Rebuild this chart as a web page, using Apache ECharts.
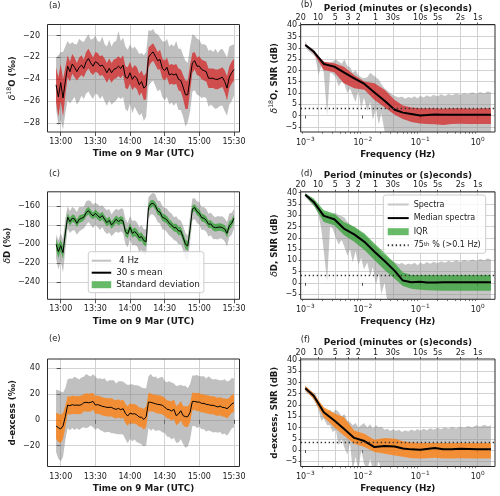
<!DOCTYPE html>
<html><head><meta charset="utf-8">
<script src="https://cdn.jsdelivr.net/npm/echarts@6/dist/echarts.min.js"></script>
<style>html,body{margin:0;padding:0;background:#fff}#c{width:500px;height:496px}</style>
</head><body><div id="c"></div>
<script>
// ---------------- DATA ----------------
// time in minutes after 13:00 UTC (9 Mar)
const timeMin = [-4,-2,0,2,4,6,8,10,12,14,
16,18,20,22,24,26,28,30,32,34,
36,38,40,42,44,46,48,50,52,54,
56,58,60,62,64,66,68,70,72,74,
76,78,80,82,84,86,88,90,92,94,
96,98,100,102,104,106,108,110,112,114,
116,118,120,122,124,126,128,130,132,134,
136,138,140,142,144,146,148,150];
const timeTickMin = [0,30,60,90,120,150];

// (a) d18O : 30 s mean, standard deviation, 4 Hz spread above / below mean
const d18Mean = [-24.5,-25.6,-24.3,-25.7,-24.2,-22.8,-23.3,-22.6,-22.9,-23.3,
-22.9,-22.7,-23.0,-22.4,-22.1,-22.5,-22.8,-22.4,-22.5,-22.8,
-22.7,-23.0,-23.4,-23.0,-23.4,-23.1,-23.0,-22.8,-23.0,-22.7,
-23.8,-23.9,-23.4,-24.0,-23.7,-23.9,-24.5,-24.2,-24.8,-24.6,
-22.0,-21.7,-21.5,-21.9,-22.3,-22.2,-23.0,-23.2,-22.9,-23.6,
-23.5,-23.6,-23.5,-24.0,-24.1,-24.7,-25.4,-25.4,-23.9,-22.5,
-22.3,-22.8,-22.8,-23.1,-23.2,-23.3,-23.9,-23.9,-23.9,-24.0,
-24.0,-23.9,-23.8,-24.2,-24.8,-23.8,-23.4,-23.1];
const d18Sd = [1.6,1.8,1.7,1.7,1.3,1.0,0.9,0.9,0.9,0.8,
0.9,0.9,0.8,0.9,0.9,0.9,0.8,0.9,0.9,0.9,
0.9,0.9,0.9,0.9,0.9,0.9,0.9,0.9,0.9,0.9,
1.0,1.0,1.0,1.0,1.0,1.0,1.0,1.0,1.1,1.2,
0.9,0.8,0.8,0.8,0.8,0.9,0.9,0.9,0.9,0.9,
0.9,0.9,0.9,1.0,1.0,1.1,1.3,1.3,1.2,0.9,
0.8,0.8,0.9,0.9,0.9,0.9,0.9,0.9,0.9,0.9,
0.9,0.9,0.9,1.0,1.1,1.0,1.0,1.0];
const d18Up = [2.5,3.8,2.8,4.2,3.2,2.3,2.5,2.0,2.1,2.5,
2.6,2.2,2.4,2.2,2.2,2.1,2.5,2.4,2.0,2.2,
2.6,2.2,2.4,2.6,2.4,2.5,2.5,3.2,2.5,2.5,
2.8,2.6,2.6,2.8,2.7,2.6,2.8,2.6,3.0,3.1,
2.5,2.1,2.1,2.1,2.4,2.0,2.5,2.6,2.6,2.6,
2.7,2.6,3.0,2.8,2.9,2.9,3.1,2.9,2.9,2.6,
2.3,2.5,2.4,2.3,2.4,2.4,2.5,2.6,2.4,2.8,
2.4,2.6,2.6,2.6,2.8,2.8,2.5,2.3];
const d18Dn = [2.2,2.6,3.4,2.9,2.9,3.1,2.9,3.3,2.7,3.0,
3.1,2.8,2.8,2.9,3.0,3.0,3.0,2.9,2.9,3.0,
2.8,3.0,3.0,2.9,2.9,3.0,2.9,2.8,2.8,2.9,
2.9,3.0,2.8,3.1,2.8,3.0,2.8,2.9,3.0,2.8,
2.6,2.6,2.6,2.7,2.8,2.7,2.6,2.7,2.7,2.7,
2.6,2.8,2.6,2.8,2.7,2.7,2.9,2.5,3.0,2.6,
2.7,2.6,2.7,2.6,2.4,2.4,2.6,2.4,2.6,2.7,
2.6,2.5,2.6,2.7,2.5,2.5,2.6,2.4];

// (c) dD
const dDMean = [-200.2,-207.9,-201.6,-209.0,-188.5,-171.6,-176.2,-172.7,-173.4,-178.0,
-173.7,-172.7,-171.6,-166.7,-164.6,-167.8,-170.2,-167.4,-169.9,-172.0,
-169.9,-173.7,-177.3,-174.8,-179.7,-176.9,-173.7,-176.2,-174.4,-175.5,
-186.8,-189.3,-182.2,-188.5,-186.8,-188.9,-193.1,-192.1,-196.3,-197.4,
-161.4,-157.5,-156.8,-159.6,-164.9,-166.3,-171.6,-172.7,-174.4,-178.0,
-179.7,-182.6,-182.6,-186.1,-186.1,-192.8,-200.2,-201.9,-184.3,-162.8,
-161.4,-165.6,-167.4,-172.0,-172.7,-174.8,-179.0,-178.7,-181.9,-182.6,
-182.2,-181.9,-182.6,-184.0,-188.5,-180.4,-178.0,-172.7];
const dDSd = [6,7,6,7,6,4.5,4,4,4,4,
4,4,3.5,4,4,4,3.5,4,4,4,
4,4,4,4,4,4,4,4,4,4,
4.5,4.5,4.5,4.5,4.5,4.5,4.5,4.5,4.5,5,
4,4,3.5,4,4,4,4,4,4,4,
4,4,4.5,4.5,4.5,4.5,5,5,5,4,
3.5,4,4,4,4,4,4,4,4,4,
4,4,4,4,4.5,4.5,4,4];
const dDUp = [10,12,13,14,15,12,11,12,11,12,
13,12,11,12,11,13,12,11,12,12,
11,12,13,12,11,12,11,12,12,13,
13,12,12,13,12,12,11,12,12,13,
11,10,11,12,11,12,12,11,12,12,
12,11,12,12,11,12,12,11,14,11,
10,11,12,11,12,12,11,12,12,11,
12,11,12,11,12,13,11,10];
const dDDn = [15,19,16,21,18,12,12,13,12,12,
13,12,12,13,12,12,13,12,12,13,
12,13,12,13,12,12,13,12,12,13,
13,14,13,13,14,13,15,14,14,14,
12,11,12,12,12,12,13,12,13,13,
13,13,14,14,14,14,15,16,14,12,
12,12,12,13,12,12,13,12,13,12,
13,12,12,13,14,12,12,11];

// (e) d-excess
const dxsMean = [-4.8,-6.1,-7.1,-4.8,2.4,11.4,10.9,11.7,11.2,11.4,
11.2,11.7,13.2,13.5,13.2,13.5,14.2,11.4,11.7,11.2,
10.4,10.1,9.6,9.6,9.6,8.6,8.1,8.8,7.8,8.6,
5.0,2.9,5.2,4.5,4.7,3.7,2.1,1.9,0.3,2.4,
13.7,13.5,13.0,12.4,11.9,11.7,11.2,9.9,8.1,7.8,
6.8,8.1,3.2,4.5,7.0,3.2,2.4,2.4,5.7,14.2,
14.2,13.7,13.7,12.7,12.7,11.9,11.7,11.2,11.2,10.6,
9.9,10.6,9.6,9.4,8.6,10.1,12.2,13.2];
const dxsSd = [10,11,11,10,8.5,7,7,7,7,7,
7,7,6.5,7,7,7,6.5,7,7,7,
7,7,7,7,7,7,7,7,7,7,
7.5,7.5,7.5,7.5,7.5,7.5,7.5,7.5,8,8,
7,7,6.5,7,7,7,7,7,7,7,
7.5,7.5,7.5,7.5,7.5,7.5,8,8,7.5,7,
6.5,7,7,7,7,7,7,7,7,7,
7,7,7,7,7.5,7,7,7];
const dxsUp = [28,29,29,26,22,20,21,20,22,21,
20,21,20,22,21,20,21,22,20,21,
21,22,20,21,21,22,20,21,22,21,
23,24,22,23,22,23,24,23,24,22,
20,22,20,21,20,21,22,20,21,22,
22,20,23,22,20,23,24,22,22,20,
20,21,20,21,21,20,22,21,20,21,
21,20,21,22,21,20,20,19];
const dxsDn = [20,24,25,24,18,18,19,18,19,18,
19,18,19,20,19,18,20,19,18,19,
19,20,19,19,20,19,19,20,19,20,
20,21,20,21,20,21,20,21,21,22,
20,22,20,21,20,20,21,20,21,21,
22,22,21,22,22,22,24,23,21,19,
19,20,19,20,20,21,20,20,21,20,
20,20,21,20,21,20,19,19];

// Spectra: frequency (Hz) of median / IQR
const specF = [0.001,0.0014,0.0021,0.0032,0.0047,0.0071,0.0107,0.016,0.024,0.036,0.05,0.07,0.1,0.13,0.18,0.25,0.35,0.5,0.71,1.0,1.3,1.7];
const bMed = [31.3,28.4,22.9,21.7,19.2,16.5,14.0,10.2,6.6,2.6,1.3,0.7,0.0,0.2,0.5,0.3,0.4,0.4,0.3,0.3,0.3,0.3];
const bQ3  = [31.8,28.8,23.9,23.2,21.7,18.0,15.1,14.3,11.4,6.9,4.5,3.6,3.2,3.2,3.2,3.0,3.2,3.2,3.1,3.1,3.2,3.2];
const bQ1  = [31.0,27.6,20.2,19.2,14.3,12.1,11.4,6.9,3.7,0.3,-1.5,-2.9,-3.5,-3.7,-3.9,-4.2,-3.8,-3.6,-3.7,-3.8,-3.8,-3.8];
const dMed = [39.1,35.9,29.7,28.2,24.1,21.5,18.2,13.8,9.7,5.3,1.0,0.3,0.5,0.2,0.2,0.3,0.3,0.3,0.3,0.3,0.3,0.3];
const dQ3  = [39.6,37.4,32.2,30.7,27.0,24.9,21.9,17.5,13.1,8.7,4.6,3.5,3.5,3.5,3.5,3.5,3.5,3.5,3.5,3.5,3.5,3.5];
const dQ1  = [38.5,34.4,27.0,25.6,21.2,18.2,14.6,10.1,5.7,1.8,-1.4,-2.6,-3.1,-3.3,-3.4,-3.5,-3.5,-3.5,-3.5,-3.5,-3.5,-3.5];
const fMed = [27.4,24.1,16.8,13.1,9.4,5.4,4.0,1.3,1.8,1.6,0.7,0.3,0.1,0.5,0.9,0.4,0.4,0.6,0.5,0.4,0.4,0.4];
const fQ3  = [28.5,25.1,19.0,16.3,14.6,8.7,7.2,4.6,5.4,5.0,3.9,3.3,3.1,3.1,3.1,3.1,3.1,3.1,3.1,3.1,3.1,3.1];
const fQ1  = [26.6,22.6,14.6,10.1,6.5,2.8,1.3,-0.9,-1.6,-2.4,-3.0,-3.6,-3.8,-3.6,-3.4,-3.8,-3.8,-3.6,-3.8,-3.8,-3.8,-3.8];
const bP75 = 3.2, dP75 = 3.4, fP75 = 3.4;

// individual spectra envelope (grey)
const grayF = [0.001,0.0011,0.0013,0.0015,0.0017,0.0019,0.0021,0.0024,0.0027,0.003,
0.0034,0.0038,0.0043,0.0048,0.0054,0.006,0.0067,0.0075,0.0084,0.0094,
0.0105,0.012,0.0135,0.015,0.017,0.019,0.021,0.024,0.027,0.03,
0.034,0.038,0.043,0.048,0.055,0.062,0.07,0.08,0.09,0.1,
0.115,0.13,0.15,0.17,0.2,0.23,0.27,0.31,0.36,0.42,
0.5,0.58,0.68,0.8,0.95,1.1,1.3,1.5,1.7];
const bGrayHi = [33,31,30,28.5,26,25,24,23.5,23.5,24,
25,24,23,25,22,21.5,19,20,18,17,
16.5,17,19,18,17,16,14,12,11,10,
9,8.5,8,8.5,7.5,8.2,7.8,8.6,7.6,8.8,
8,9,8.2,9.2,8.5,9.4,8.7,9.6,9,9.8,
9.2,10,9.4,10.3,9.6,10.5,9.8,10.8,10.2];
const bGrayLo = [30.5,29,27.5,26,18,22,19,0,19,18.5,
17,13,15,14,10,12,9,6,11,3,
8,2,6,-2,3,-4,1,-7,-9,-9,
-9,-9,-9,-9,-9,-9,-9,-9,-9,-9,
-9,-9,-9,-9,-9,-9,-9,-9,-9,-9,
-9,-9,-9,-9,-9,-9,-9,-9,-9];
const dGrayHi = [40,39,37.5,36,34,32,31,31,30,30.5,
31,30,29.5,29,27,26,25,24.5,23.5,22,
21.5,20,18.5,17,16,14.5,13,12,11,10,
9.5,8.8,8.2,8.9,7.9,8.6,8.1,8.9,7.8,9,
8.3,9.2,8.5,9.4,8.7,9.6,8.9,9.8,9.1,10,
9.3,10.2,9.5,10.4,9.7,10.6,9.9,10.9,10.3];
const dGrayLo = [38,37,35,33.5,30,24,14,0.5,25,24,
20,17,19,16,12,15,9,14,8,11,
6,9,3,7,-1,4,-5,0,-9,-9,
-9,-9,-9,-9,-9,-9,-9,-9,-9,-9,
-9,-9,-9,-9,-9,-9,-9,-9,-9,-9,
-9,-9,-9,-9,-9,-9,-9,-9,-9];
const fGrayHi = [28.5,27.5,26,25,22,20,18.5,17,18,16.5,
18,17,15,16,13,12.5,11,12,10,11,
12,10,11.5,9.5,11,10,10.5,9,9.5,8.5,
9.2,8.4,9,8,8.8,8.2,9.1,8.4,9.3,8.6,
9.5,8.8,9.7,9,9.9,9.2,10.1,9.4,10.3,9.6,
10.5,9.8,10.7,10,11,10.3,11.2,10.6,11];
const fGrayLo = [26,25,23.5,21,18,13,14,11,11,8,
9,2,5,1,-2,3,-9,-3,-9,0,
-6,-9,-4,-9,-9,-5,-9,-9,-9,-9,
-9,-9,-9,-9,-9,-9,-9,-9,-9,-9,
-9,-9,-9,-9,-9,-9,-9,-9,-9,-9,
-9,-9,-9,-9,-9,-9,-9,-9,-9];

// tick labels
const periodLabels = ['20','10','5','3','2','1','30s','10s','5s','2s','1s'];
const periodSeconds = [1200,600,300,180,120,60,30,10,5,2,1];
const decadeTicks = [0.001,0.01,0.1,1];
const minorTicks = [0.0009,0.002,0.003,0.004,0.005,0.006,0.007,0.008,0.009,0.02,0.03,0.04,0.05,0.06,0.07,0.08,0.09,0.2,0.3,0.4,0.5,0.6,0.7,0.8,0.9];
const d18Ticks = [-28,-26,-24,-22,-20];
const dDTicks = [-240,-220,-200,-180,-160];
const dxsTicks = [-20,0,20,40];
const snrTicks = [-5,0,5,10,15,20,25,30,35,40];

// ---------------- CHART ----------------
const FONT = 'DejaVu Sans';
const INK = '#1a1a1a';
const GRIDC = '#d2d2d2';
const F_MIN = 0.000833, F_MAX = 2.0;
const T_MIN = -11.43, T_MAX = 154.8;

function minuteLabel(v){ const m = 780 + Math.round(v); return Math.floor(m/60) + ':' + String(m % 60).padStart(2,'0'); }
function numLabel(v){ return String(v).replace('-', '\u2212'); }
function powLabel(v){ const e = Math.round(Math.log10(v)); return '10{s|' + (e < 0 ? '\u2212' + (-e) : e) + '}'; }
function periodLabel(v){
  for (let i = 0; i < periodSeconds.length; i++) {
    if (Math.abs(Math.log10(v) + Math.log10(periodSeconds[i])) < 0.01) return periodLabels[i];
  }
  return '';
}
const periodFreqs = periodSeconds.map(s => 1 / s);

const grids = [
  {left:47.5, top:24.5, width:192, height:107.5},
  {left:300.7, top:24.5, width:194.3, height:107.5},
  {left:47.5, top:191.8, width:192, height:107.5},
  {left:300.7, top:191.8, width:194.3, height:107.5},
  {left:47.5, top:359, width:192, height:107.5},
  {left:300.7, top:359, width:194.3, height:107.5}
].map(g => Object.assign(g, {show:true, z:10, backgroundColor:'transparent', borderColor:'#2a2a2a', borderWidth:1}));

const tickLine = {color:'#2a2a2a', width:0.8};
function timeX(grid){
  return {type:'value', gridIndex:grid, min:T_MIN, max:T_MAX,
    axisLine:{show:false},
    axisTick:{show:true, customValues:timeTickMin, length:4, lineStyle:tickLine},
    axisLabel:{customValues:timeTickMin, formatter:minuteLabel, fontFamily:FONT, fontSize:8, color:INK, margin:6},
    splitLine:{show:true, lineStyle:{color:GRIDC, width:1}},
    name:'Time on 9 Mar (UTC)', nameLocation:'middle', nameGap:17.5,
    nameTextStyle:{fontFamily:FONT, fontSize:8.8, fontWeight:'bold', color:INK}};
}
function freqX(grid){
  return {type:'log', logBase:10, gridIndex:grid, min:F_MIN, max:F_MAX, position:'bottom',
    axisLine:{show:false},
    axisTick:{show:true, customValues:decadeTicks, length:3, lineStyle:tickLine},
    axisLabel:{customValues:decadeTicks, formatter:powLabel, fontFamily:FONT, fontSize:8, color:INK, margin:4, lineHeight:13,
      rich:{s:{fontFamily:FONT, fontSize:5.8, color:INK, verticalAlign:'top', lineHeight:7}}},
    splitLine:{show:false},
    name:'Frequency (Hz)', nameLocation:'middle', nameGap:17.5,
    nameTextStyle:{fontFamily:FONT, fontSize:8.8, fontWeight:'bold', color:INK}};
}
function minorX(grid){
  return {type:'log', logBase:10, gridIndex:grid, min:F_MIN, max:F_MAX, position:'bottom',
    axisLine:{show:false},
    axisTick:{show:true, customValues:minorTicks, length:1.8, lineStyle:{color:'#2a2a2a', width:0.6}},
    axisLabel:{show:false}, splitLine:{show:false}};
}
function periodX(grid){
  return {type:'log', logBase:10, gridIndex:grid, min:F_MIN, max:F_MAX, position:'top',
    axisLine:{show:false},
    axisTick:{show:true, customValues:periodFreqs, length:2, lineStyle:tickLine},
    axisLabel:{customValues:periodFreqs, formatter:periodLabel, fontFamily:FONT, fontSize:8, color:INK, margin:2.5},
    splitLine:{show:true, lineStyle:{color:GRIDC, width:1}},
    name:'Period (minutes or (s)econds)', nameLocation:'middle', nameGap:11.5,
    nameTextStyle:{fontFamily:FONT, fontSize:8.8, fontWeight:'bold', color:INK}};
}
const nameRich = {
  d:{fontFamily:FONT, fontSize:9.2, fontStyle:'italic', fontWeight:'normal', color:INK},
  s:{fontFamily:FONT, fontSize:6.2, fontWeight:'normal', color:INK, verticalAlign:'top', lineHeight:7},
  b:{fontFamily:FONT, fontSize:8.6, fontWeight:'bold', color:INK}
};
function valY(grid, min, max, ticks, name, gap, margin, tlen){
  return {type:'value', gridIndex:grid, min, max,
    axisLine:{show:false},
    axisTick:{show:true, customValues:ticks, length:tlen, lineStyle:tickLine},
    axisLabel:{customValues:ticks, formatter:numLabel, fontFamily:FONT, fontSize:8, color:INK, margin},
    splitLine:{show:true, lineStyle:{color:GRIDC, width:1}},
    name, nameLocation:'middle', nameGap:gap,
    nameTextStyle:{fontFamily:FONT, fontSize:8.6, fontWeight:'bold', color:INK, lineHeight:13, rich:nameRich}};
}

const xAxis = [timeX(0), timeX(2), timeX(4), freqX(1), freqX(3), freqX(5),
  periodX(1), periodX(3), periodX(5), minorX(1), minorX(3), minorX(5)];
const yAxis = [
  valY(0, -28.8, -19.0, d18Ticks, '{d|δ}{s|18}{b|O (‰)}', 28.5, 7.5, 4),
  valY(1, -7.3, 40.4, snrTicks, '{d|δ}{s|18}{b|O, SNR (dB)}', 13.5, 3.5, 2),
  valY(2, -258.3, -144.7, dDTicks, '{d|δ}{b|D (‰)}', 28.5, 7.5, 4),
  valY(3, -7.3, 40.4, snrTicks, '{d|δ}{b|D, SNR (dB)}', 13.5, 3.5, 2),
  valY(4, -36.1, 47.0, dxsTicks, '{b|d-excess (‰)}', 27.5, 7.5, 4),
  valY(5, -7.3, 40.4, snrTicks, '{b|d-excess, SNR (dB)}', 13.5, 3.5, 2)
];

function band(xi, yi, xs, lo, hi, color, z, name){
  return {type:'custom', name, xAxisIndex:xi, yAxisIndex:yi, z, clip:true, silent:true,
    itemStyle:{color}, data:[[xs[0], lo[0]]],
    renderItem(params, api){
      const pts = [];
      for (let i = 0; i < xs.length; i++) pts.push(api.coord([xs[i], hi[i]]));
      for (let i = xs.length - 1; i >= 0; i--) pts.push(api.coord([xs[i], lo[i]]));
      return {type:'polygon', shape:{points:pts}, style:{fill:color}};
    }};
}
function line(xi, yi, xs, ys, width, name){
  return {type:'line', name, xAxisIndex:xi, yAxisIndex:yi, z:4, silent:true, symbol:'none',
    data: xs.map((x, i) => [x, ys[i]]), itemStyle:{color:'#000'}, lineStyle:{color:'#000', width}};
}
function plusMinus(mean, d, sign){ return mean.map((m, i) => m + sign * d[i]); }
function dotted(xi, yi, val, name){
  const ls = {color:'#333', width:1.3, type:[1.4, 2.6]};
  return {type:'line', name, xAxisIndex:xi, yAxisIndex:yi, z:5, silent:true, symbol:'none', data:[],
    itemStyle:{color:'#333'}, lineStyle:ls,
    markLine:{silent:true, symbol:['none','none'], label:{show:false}, lineStyle:ls, data:[{yAxis:val}]}};
}
const GRAY_T = 'rgba(135,135,135,0.52)';
const GRAY_S = 'rgba(140,140,140,0.5)';
const RED = 'rgba(214,39,40,0.75)', GREEN = 'rgba(44,160,44,0.72)', ORANGE = 'rgba(255,127,14,0.78)';

const series = [];
function timePanel(xi, yi, mean, sd, up, dn, color, named){
  series.push(band(xi, yi, timeMin, plusMinus(mean, dn, -1), plusMinus(mean, up, 1), GRAY_T, 2));
  series.push(band(xi, yi, timeMin, plusMinus(mean, sd, -1), plusMinus(mean, sd, 1), color, 3, named ? 'Standard deviation' : undefined));
  series.push(line(xi, yi, timeMin, mean, 1, named ? '30 s mean' : undefined));
}
function specPanel(xi, yi, gHi, gLo, med, q1, q3, p75, color, named){
  series.push(band(xi, yi, grayF, gLo, gHi, GRAY_S, 2));
  series.push(band(xi, yi, specF, q1, q3, color, 3, named ? 'IQR' : undefined));
  series.push(line(xi, yi, specF, med, 2, named ? 'Median spectra' : undefined));
  series.push(dotted(xi, yi, p75, named ? '75th' : undefined));
}
timePanel(0, 0, d18Mean, d18Sd, d18Up, d18Dn, RED, false);
timePanel(1, 2, dDMean, dDSd, dDUp, dDDn, GREEN, true);
timePanel(2, 4, dxsMean, dxsSd, dxsUp, dxsDn, ORANGE, false);
specPanel(3, 1, bGrayHi, bGrayLo, bMed, bQ1, bQ3, bP75, RED, false);
specPanel(4, 3, dGrayHi, dGrayLo, dMed, dQ1, dQ3, dP75, GREEN, true);
specPanel(5, 5, fGrayHi, fGrayLo, fMed, fQ1, fQ3, fP75, ORANGE, false);
// legend-only entries
series.push({type:'line', name:' 4 Hz', xAxisIndex:1, yAxisIndex:2, data:[], symbol:'none',
  itemStyle:{color:'#c2c2c2'}, lineStyle:{color:'#c2c2c2', width:1.5}});
series.push({type:'line', name:'Spectra', xAxisIndex:4, yAxisIndex:3, data:[], symbol:'none',
  itemStyle:{color:'#c6c6c6'}, lineStyle:{color:'#c6c6c6', width:1.5}});

const noSym = {opacity:0};
const legendBase = {orient:'vertical', selectedMode:false, backgroundColor:'rgba(255,255,255,0.82)',
  borderColor:'#cccccc', borderWidth:1, borderRadius:2.5, itemHeight:7, z:20};
const legend = [
  Object.assign({}, legendBase, {left:88.3, top:251.7, padding:[4.5,4,3.5,2.4], itemGap:3, itemWidth:19.5,
    textStyle:{fontFamily:FONT, fontSize:8.8, color:INK},
    data:[{name:' 4 Hz', itemStyle:noSym}, {name:'30 s mean', itemStyle:noSym}, {name:'Standard deviation', icon:'rect'}]}),
  Object.assign({}, legendBase, {left:383.3, top:195, padding:[5.5,5,4,3.4], itemGap:5.6, itemWidth:21,
    textStyle:{fontFamily:FONT, fontSize:8, color:INK, rich:{s:{fontFamily:FONT, fontSize:5.6, color:INK, verticalAlign:'top', lineHeight:6}}},
    formatter: n => n === '75th' ? '75{s|th} % (>0.1 Hz)' : n,
    data:[{name:'Spectra', itemStyle:noSym}, {name:'Median spectra', itemStyle:noSym}, {name:'IQR', icon:'rect'}, {name:'75th', itemStyle:noSym}]})
];

const lbl = (t, x, y) => ({type:'text', left:x, top:y, z:30, style:{text:t, fontFamily:FONT, fontSize:8.3, fill:INK}});
const graphic = [lbl('(a)', 49, 2.3), lbl('(b)', 300.7, 1.2), lbl('(c)', 49, 169.5), lbl('(d)', 300.7, 170.3),
  lbl('(e)', 49, 335.2), lbl('(f)', 300.7, 335.9)];

const chart = echarts.init(document.getElementById('c'), null, {renderer:'canvas'});
chart.setOption({animation:false, backgroundColor:'#fff', textStyle:{fontFamily:FONT},
  grid:grids, xAxis, yAxis, series, legend, graphic});
</script></body></html>
